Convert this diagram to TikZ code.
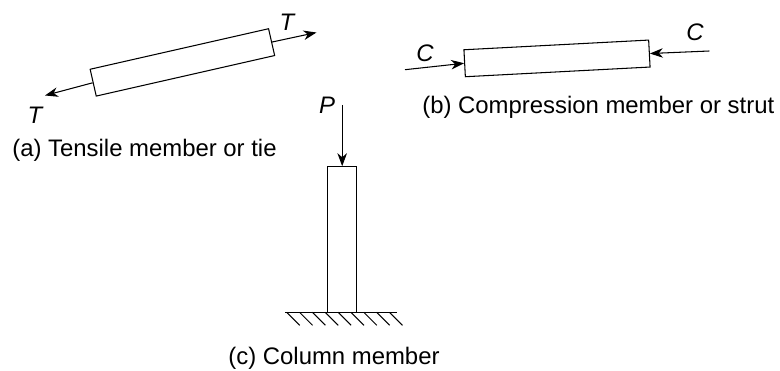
\documentclass[tikz,border=0pt]{standalone}
\usepackage{fontspec}
\setmainfont{Liberation Sans}
\usetikzlibrary{arrows.meta}
\tikzset{
    member/.style={draw,line width=0.6pt,inner sep=0pt},
    force/.style={line width=0.6pt,-{Stealth[length=0.26cm,width=0.19cm,inset=0.08cm]},shorten >=0pt},
    caption/.style={inner sep=0pt,font=\fontsize{13.6}{16}\selectfont},
    symbol/.style={inner sep=0pt,font=\fontsize{13.6}{16}\selectfont\itshape}
}
\begin{document}
\begin{tikzpicture}[x=0.02cm,y=-0.02cm]
    \useasboundingbox (0,0) rectangle (780,371);
    % tie
    \node [member,rotate=12.8,minimum width=3.66cm,minimum height=0.55cm] (tie) at (182.4,62.4) {};
    \coordinate (tieR) at (316.5,32.5);
    \coordinate (tieL) at (45,95.5);
    \draw [force] (tie.east) -- (tieR);
    \draw [force] (tie.west) -- (tieL);
    \node [symbol] (tieTR) at (287,22) {T};
    \node [symbol] (tieTL) at (35,115) {T};
    \node [caption,anchor=west] (capA) at (12,150) {(a) Tensile member or tie};
    % strut
    \node [member,rotate=3,minimum width=3.70cm,minimum height=0.54cm] (strut) at (557,58.4) {};
    \coordinate (strutL) at (405,69.7);
    \coordinate (strutR) at (709.3,51);
    \draw [force] (strutL) -- (strut.west);
    \draw [force] (strutR) -- (strut.east);
    \node [symbol] (strutCL) at (425,53) {C};
    \node [symbol] (strutCR) at (695,32.7) {C};
    \node [caption,anchor=west] (capB) at (422,107) {(b) Compression member or strut};
    % column
    \node [member,minimum width=0.58cm,minimum height=2.91cm] (column) at (342.2,239.5) {};
    \coordinate (columnP) at (342.2,105);
    \draw [force] (columnP) -- (column.north);
    \node [symbol] (columnT) at (327,105) {P};
    \coordinate (baseL) at (285,312.3);
    \coordinate (baseR) at (396.7,312.3);
    \draw [line width=0.6pt] (baseL) -- (baseR);
    \foreach \i in {0,...,8}
        \draw [line width=0.6pt] (286.7+12.85*\i,312.3) -- ++(13,13);
    \node [caption] (capC) at (334,358) {(c) Column member};
\end{tikzpicture}
\end{document}
